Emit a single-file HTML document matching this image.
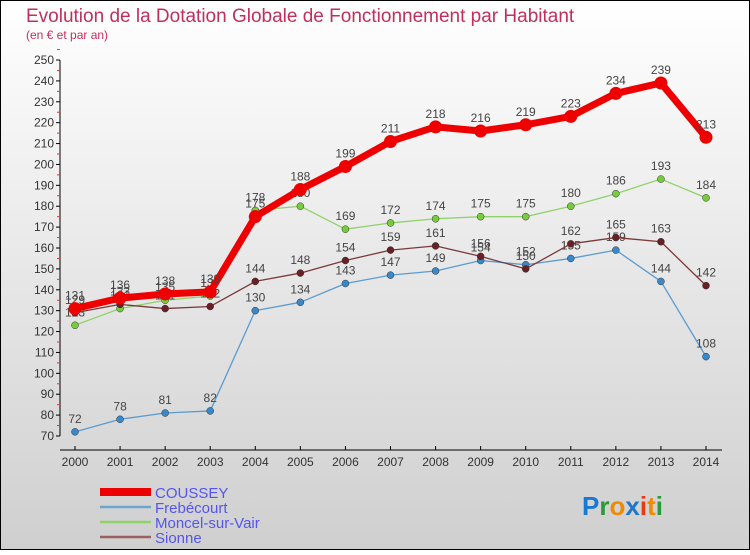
<!DOCTYPE html>
<html><head><meta charset="utf-8"><style>
html,body{margin:0;padding:0}
body{width:750px;height:550px;overflow:hidden;font-family:"Liberation Sans",sans-serif}
svg text{font-family:"Liberation Sans",sans-serif}
</style></head><body>
<svg id="chart" width="750" height="550" xmlns="http://www.w3.org/2000/svg">
<defs><linearGradient id="bg" x1="0" y1="0" x2="0" y2="1"><stop offset="0" stop-color="#ffffff"/><stop offset="1" stop-color="#cfcfcf"/></linearGradient></defs>
<rect x="0.5" y="0.5" width="749" height="549" fill="url(#bg)" stroke="#000"/>
<text x="26" y="22" font-size="19" fill="#c0305a">Evolution de la Dotation Globale de Fonctionnement par Habitant</text>
<text x="26" y="39" font-size="12" fill="#c0305a">(en € et par an)</text>
<g id="axes"></g><g id="series"></g><g id="legend"></g>
<text x="582" y="515" font-size="26" font-weight="bold" fill="#1a78d0">P<tspan fill="#2a9a3a">r</tspan><tspan fill="#f08a00">o</tspan><tspan fill="#1a78d0">x</tspan><tspan fill="#e83a10">i</tspan><tspan fill="#f08a00">t</tspan><tspan fill="#2a9a3a">i</tspan></text>
</svg>
<script>
const years=[2000,2001,2002,2003,2004,2005,2006,2007,2008,2009,2010,2011,2012,2013,2014];
const yTicks=[70,80,90,100,110,120,130,140,150,160,170,180,190,200,210,220,230,240,250];
const seriesNames=["COUSSEY","Frebécourt","Moncel-sur-Vair","Sionne"];
const coussey=[131,136,138,139,175,188,199,211,218,216,219,223,234,239,213];
const frebecourt=[72,78,81,82,130,134,143,147,149,154,152,155,159,144,108];
const moncel=[123,131,135,137,178,180,169,172,174,175,175,180,186,193,184];
const sionne=[129,133,131,132,144,148,154,159,161,156,150,162,165,163,142];
const NS="http://www.w3.org/2000/svg";
function x(i){return 75+i*(706-75)/(years.length-1);}
function y(v){return 436-(v-70)*376/180;}
function mk(tag,attrs,parent){const e=document.createElementNS(NS,tag);for(const k in attrs)e.setAttribute(k,attrs[k]);parent.appendChild(e);return e;}
const axes=document.getElementById('axes');
let a=mk('line',{x1:60,y1:y(250),x2:60,y2:y(70),stroke:'#000'},axes);


a=mk('line',{x1:60,y1:450,x2:722,y2:450,stroke:'#000'},axes);


yTicks.forEach(v=>{
  mk('line',{x1:56,y1:y(v),x2:60,y2:y(v),stroke:'#000'},axes);
  mk('line',{x1:57,y1:y(v+5),x2:60,y2:y(v+5),stroke:'#e33'},axes);
  const t=mk('text',{x:54,y:y(v)+4,'font-size':12,'text-anchor':'end',fill:'#333'},axes);
  t.textContent=v;
  
  
});
years.forEach((yr,i)=>{
  mk('line',{x1:x(i),y1:446,x2:x(i),y2:450,stroke:'#000'},axes);
  const t=mk('text',{x:x(i),y:466,'font-size':12,'text-anchor':'middle',fill:'#333'},axes);
  t.textContent=yr;
  
  
});
const sg=document.getElementById('series');
const styles=[
  {d:frebecourt,c:'#5b9bd0',w:1.3,r:3.5,f:'#3b88c8',n:'frebecourt'},
  {d:moncel,c:'#8fd26a',w:1.3,r:3.5,f:'#76cc3a',n:'moncel-sur-vair'},
  {d:sionne,c:'#7a3a3a',w:1.3,r:3.5,f:'#6a1f25',n:'sionne'},
  {d:coussey,c:'#ee0000',w:7,r:6.5,f:'#ee0000',n:'coussey'}];
styles.forEach(s=>{
  const g=mk('g',{},sg);
  
  
  const p=mk('polyline',{points:s.d.map((v,i)=>x(i)+','+y(v)).join(' '),fill:'none',stroke:s.c,'stroke-width':s.w,'stroke-linejoin':'round'},g);
  
  
  s.d.forEach((v,i)=>{
    const c=mk('circle',{cx:x(i),cy:y(v),r:s.r,fill:s.f,stroke:s.n==='coussey'?'none':'#333','stroke-width':0.5},g);
    
    
    const t=mk('text',{x:x(i),y:y(v)-9,'font-size':12,'text-anchor':'middle',fill:'#444'},g);
    t.textContent=v;
    
    
  });
});
const lg=document.getElementById('legend');
const lc=['#ee0000','#6aa6d0','#8fd26a','#9a6060'],lw=[8,2.5,2.5,2.5];
seriesNames.forEach((n,i)=>{
  const g=mk('g',{},lg);
  
  
  mk('line',{x1:100,y1:492+i*15,x2:151,y2:492+i*15,stroke:lc[i],'stroke-width':lw[i]},g);
  const t=mk('text',{x:155,y:498+i*15,'font-size':15,fill:'#5555ee'},g);
  t.textContent=n;
});
</script>
</body></html>
